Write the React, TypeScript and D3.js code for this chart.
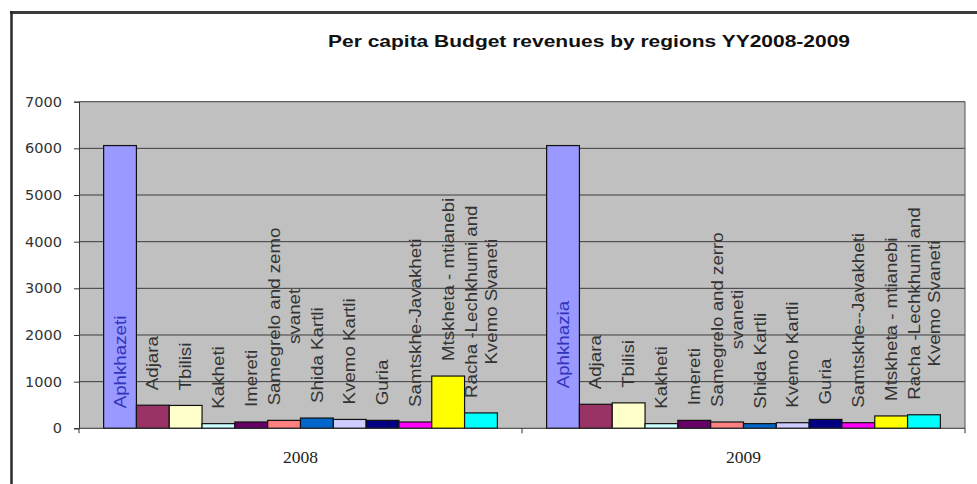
import React, { useEffect, useRef } from "react";
import * as d3 from "d3";

const title = "Per capita Budget revenues by regions YY2008-2009";
const years = ["2008", "2009"];
const regionColors = [
  "#9999FF", "#993366", "#FFFFCC", "#CCFFFF", "#660066", "#FF8080",
  "#0066CC", "#CCCCFF", "#000080", "#FF00FF", "#FFFF00", "#00FFFF",
];
const values2008 = [6060, 495, 490, 100, 135, 170, 220, 190, 170, 135, 1120, 330];
const values2009 = [6060, 515, 545, 100, 170, 135, 100, 120, 190, 120, 265, 290];
const labels2008 = [
  ["Aphkhazeti"], ["Adjara"], ["Tbilisi"], ["Kakheti"], ["Imereti"],
  ["Samegrelo and zemo", "svanet"], ["Shida Kartli"], ["Kvemo Kartli"], ["Guria"],
  ["Samtskhe-Javakheti"], ["Mtskheta - mtianebi"], ["Racha -Lechkhumi and", "Kvemo Svaneti"],
];
const labels2009 = [
  ["Aphkhazia"], ["Adjara"], ["Tbilisi"], ["Kakheti"], ["Imereti"],
  ["Samegrelo and zerro", "svaneti"], ["Shida Kartli"], ["Kvemo Kartli"], ["Guria"],
  ["Samtskhe--Javakheti"], ["Mtskheta - mtianebi"], ["Racha -Lechkhumi and", "Kvemo Svaneti"],
];
const yTicks = [0, 1000, 2000, 3000, 4000, 5000, 6000, 7000];

export default function App() {
  const ref = useRef<SVGSVGElement>(null);

  useEffect(() => {
    const svg = d3.select(ref.current);
    svg.selectAll("*").remove();
    const W = 977, H = 484;
    const left = 79, right = 965, top = 101.7, bottom = 428.3;

    svg.append("rect").attr("width", W).attr("height", H).attr("fill", "#fff");
    // frame
    svg.append("line").attr("x1", 10).attr("x2", W).attr("y1", 12.5).attr("y2", 12.5)
      .attr("stroke", "#3a3a3a").attr("stroke-width", 3);
    svg.append("line").attr("x1", 11.5).attr("x2", 11.5).attr("y1", 11).attr("y2", H)
      .attr("stroke", "#2a2a2a").attr("stroke-width", 2.5);

    svg.append("text").attr("x", 328).attr("y", 47)
      .attr("font-family", "'Liberation Sans', Arial, sans-serif").attr("font-weight", "bold")
      .attr("font-size", 17).attr("fill", "#111")
      .attr("textLength", 522).attr("lengthAdjust", "spacingAndGlyphs")
      .text(title);

    const x0 = d3.scaleBand<string>().domain(years).range([left, right]).padding(0);
    const x1 = d3.scaleBand<number>().domain(d3.range(regionColors.length))
      .range([0, x0.bandwidth()]).paddingInner(0).paddingOuter(0.75);
    const y = d3.scaleLinear().domain([0, 7000]).range([bottom, top]);

    svg.append("rect").attr("x", left).attr("y", top).attr("width", right - left)
      .attr("height", bottom - top).attr("fill", "#C0C0C0");

    // gridlines
    svg.append("g").selectAll("line").data(yTicks.filter((t) => t > 0)).join("line")
      .attr("x1", left).attr("x2", right)
      .attr("y1", (d) => y(d)).attr("y2", (d) => y(d))
      .attr("stroke", "#3c3c3c").attr("stroke-width", 1);
    svg.append("line").attr("x1", right).attr("x2", right).attr("y1", top).attr("y2", bottom)
      .attr("stroke", "#555").attr("stroke-width", 1);

    // y axis
    const yAxis = svg.append("g").attr("transform", `translate(${left},0)`)
      .call(d3.axisLeft(y).tickValues(yTicks).tickSize(5).tickPadding(12).tickFormat(d3.format("d")));
    yAxis.select(".domain").attr("stroke", "#333");
    yAxis.selectAll(".tick line").attr("stroke", "#333");
    yAxis.selectAll("text").attr("font-family", "'DejaVu Sans', Verdana, sans-serif")
      .attr("font-size", 14.5).attr("fill", "#333");

    const series = [values2008, values2009];
    const labels = [labels2008, labels2009];

    years.forEach((yr, gi) => {
      const g = svg.append("g").attr("transform", `translate(${x0(yr)},0)`);
      g.selectAll("rect").data(series[gi]).join("rect")
        .attr("x", (_, i) => x1(i)!)
        .attr("y", (d) => y(d))
        .attr("width", x1.bandwidth())
        .attr("height", (d) => bottom - y(d))
        .attr("fill", (_, i) => regionColors[i])
        .attr("stroke", "#111").attr("stroke-width", 1.2);

      series[gi].forEach((v, i) => {
        const lines = labels[gi][i];
        const cx = x1(i)! + x1.bandwidth() / 2;
        const stretch = 1.17;
        const lg = g.append("g");
        const tg = lg.append("g");
        const texts = lines.map((ln, li) =>
          tg.append("text")
            .attr("font-family", "'Liberation Sans', Arial, sans-serif")
            .attr("font-size", 16)
            .attr("y", (li - (lines.length - 1) / 2) * 20)
            .attr("dy", "0.35em")
            .text(ln)
        );
        const lens = texts.map((t) => (t.node() as SVGTextElement).getComputedTextLength());
        const L = Math.max(...lens);
        texts.forEach((t, li) => {
          t.attr("x", (L - lens[li]) / 2);
        });
        let startY = y(v) - 15;
        let color = "#333";
        if (startY - L * stretch < top) {
          startY = bottom - (gi === 0 ? 20 : 40);
          color = "#3333BB";
        }
        texts.forEach((t) => t.attr("fill", color));
        tg.attr("transform", `translate(${cx},${startY}) rotate(-90) scale(${stretch},1)`);
      });
    });

    // x axis
    svg.append("line").attr("x1", left).attr("x2", right).attr("y1", bottom).attr("y2", bottom)
      .attr("stroke", "#333").attr("stroke-width", 1);
    const tickXs = [left, ...years.map((yr) => x0(yr)! + x0.bandwidth())];
    svg.append("g").selectAll("line").data(tickXs).join("line")
      .attr("x1", (d) => d).attr("x2", (d) => d).attr("y1", bottom).attr("y2", bottom + 5)
      .attr("stroke", "#333");
    svg.append("g").selectAll("text").data(years).join("text")
      .attr("x", (d) => x0(d)! + x0.bandwidth() / 2)
      .attr("y", 463)
      .attr("text-anchor", "middle")
      .attr("font-family", "'Liberation Serif', 'Times New Roman', serif")
      .attr("font-size", 17.5).attr("fill", "#222")
      .text((d) => d);
  }, []);

  return (
    <svg ref={ref} width={977} height={484}
      style={{ position: "absolute", left: 0, top: 0, display: "block" }} />
  );
}
